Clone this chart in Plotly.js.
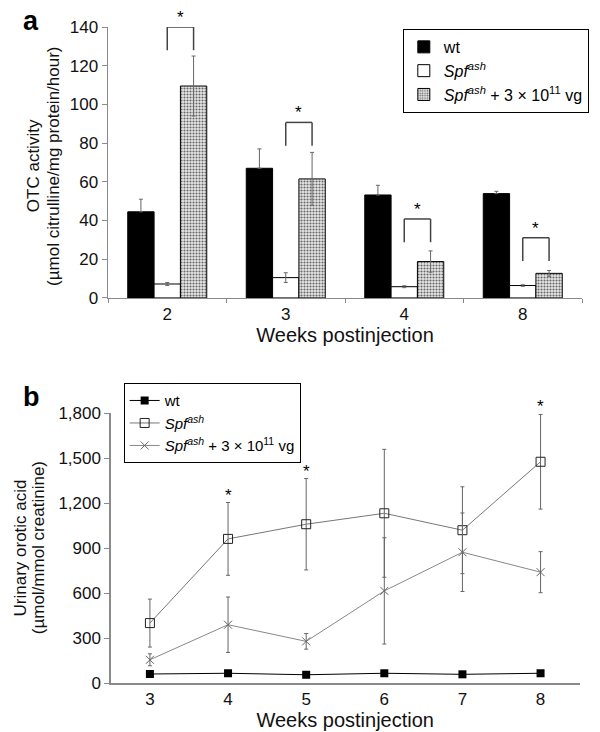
<!DOCTYPE html>
<html>
<head>
<meta charset="utf-8">
<script src="https://cdn.plot.ly/plotly-3.0.1.min.js"></script>
<style>
  body { margin: 0; background: #fff; }
  #chart { width: 600px; height: 732px; }
</style>
</head>
<body>
<div id="chart"></div>
<script>
// panel a: OTC activity (bars)
var weeksA = ['2', '3', '4', '8'];
var wtA = [44.5, 67, 53.2, 53.9];
var wtErrA = [6.5, 10, 5, 1.2];
var spfA = [7.2, 10.5, 5.8, 6.4];
var spfErrA = [0.8, 2.5, 0.5, 0.4];
var trtA = [109.5, 61.5, 18.8, 12.7];
var trtErrA = [15.5, 13.7, 5.5, 1.5];
var bracketTopA = [140, 90.7, 40.8, 31.1];

// panel b: urinary orotic acid (lines)
var weeksB = [3, 4, 5, 6, 7, 8];
var wtB = [60, 65, 55, 65, 58, 65];
var spfB = [400, 962, 1060, 1133, 1020, 1477];
var spfErrB = [160, 243, 305, 427, 290, 316];
var trtB = [155, 389, 278, 615, 873, 740];
var trtErrB = [40, 185, 52, 355, 262, 137];
var starIdxB = [1, 2, 5];   // weeks 4, 5, 8

var font = 'Liberation Sans, Arial, sans-serif';
var axisGrey = '#8a8a8a';
var errStyle = function (arr, minus) {
    return { type: 'data', array: arr, arrayminus: minus || arr, visible: true,
             color: '#666', thickness: 1, width: 2 };
};
var spfName = '<i>Spf<sup>ash</sup></i>';
var trtName = '<i>Spf<sup>ash</sup></i> + 3 \u00d7 10<sup>11</sup> vg';

var data = [
    { x: weeksA, y: wtA, name: 'wt', type: 'bar', xaxis: 'x', yaxis: 'y',
      marker: { color: '#000', line: { color: '#000', width: 1 } },
      error_y: errStyle(wtErrA, wtA.map(function () { return 0; })), legend: 'legend' },
    { x: weeksA, y: spfA, name: spfName, type: 'bar', xaxis: 'x', yaxis: 'y',
      marker: { color: '#fff', line: { color: '#000', width: 1 } },
      error_y: errStyle(spfErrA), legend: 'legend' },
    { x: weeksA, y: trtA, name: trtName, type: 'bar', xaxis: 'x', yaxis: 'y',
      marker: { color: '#c8c8c8', line: { color: '#000', width: 1 },
                pattern: { shape: '.', fgcolor: '#666', bgcolor: '#e8e8e8', size: 3, solidity: 0.4 } },
      error_y: errStyle(trtErrA), legend: 'legend' },

    { x: weeksB, y: wtB, name: 'wt', type: 'scatter', mode: 'lines+markers', xaxis: 'x2', yaxis: 'y2',
      line: { color: '#000', width: 1 },
      marker: { symbol: 'square', size: 8, color: '#000' }, legend: 'legend2' },
    { x: weeksB, y: spfB, name: spfName, type: 'scatter', mode: 'lines+markers',
      xaxis: 'x2', yaxis: 'y2',
      line: { color: '#777', width: 1 },
      marker: { symbol: 'square-open', size: 9, color: '#222', line: { width: 1 } },
      error_y: errStyle(spfErrB), legend: 'legend2' },
    { x: weeksB, y: trtB, name: trtName, type: 'scatter', mode: 'lines+markers',
      xaxis: 'x2', yaxis: 'y2',
      line: { color: '#888', width: 1 },
      marker: { symbol: 'x-thin-open', size: 8, color: '#666', line: { width: 1, color: '#666' } },
      error_y: errStyle(trtErrB), legend: 'legend2' }
];

// significance brackets between Spf and treated bars (group offset of one bar width)
var barW = (1 - 1 / 3) / 3;
var shapes = [];
var annotations = [];
bracketTopA.forEach(function (top, i) {
    var x0 = i, x1 = i + barW, leg = top - 12;
    var ln = { color: '#444', width: 1.5 };
    shapes.push({ type: 'line', xref: 'x', yref: 'y', x0: x0, x1: x1, y0: top, y1: top, line: ln });
    shapes.push({ type: 'line', xref: 'x', yref: 'y', x0: x0, x1: x0, y0: top, y1: leg, line: ln });
    shapes.push({ type: 'line', xref: 'x', yref: 'y', x0: x1, x1: x1, y0: top, y1: leg, line: ln });
    annotations.push({ x: (x0 + x1) / 2, y: top, xref: 'x', yref: 'y', text: '*', showarrow: false,
                       yanchor: 'bottom', yshift: -2, font: { size: 17, color: '#000' } });
});
starIdxB.forEach(function (i) {
    annotations.push({ x: weeksB[i], y: spfB[i] + spfErrB[i], xref: 'x2', yref: 'y2', text: '*',
                       showarrow: false, yanchor: 'bottom', yshift: -4,
                       font: { size: 17, color: '#000' } });
});

// panel letters
annotations.push({ text: '<b>a</b>', x: -0.183, y: 1.035, xref: 'paper', yref: 'paper', showarrow: false,
                   xanchor: 'left', yanchor: 'top', font: { size: 27, color: '#000' } });
annotations.push({ text: '<b>b</b>', x: -0.183, y: 0.462, xref: 'paper', yref: 'paper', showarrow: false,
                   xanchor: 'left', yanchor: 'top', font: { size: 27, color: '#000' } });

// y-axis titles, two rotated lines each
function ytitle(text, px, yMid) {
    return { text: text, textangle: -90, x: (px - 108) / 481, y: yMid, xref: 'paper', yref: 'paper',
             showarrow: false, xanchor: 'center', yanchor: 'middle', font: { size: 17, color: '#111' } };
}
annotations.push(ytitle('OTC activity', 32, 0.788));
annotations.push(ytitle('(\u00b5mol citrulline/mg protein/hour)', 52, 0.788));
annotations.push(ytitle('Urinary orotic acid', 19, 0.2055));
annotations.push(ytitle('(\u00b5mol/mmol creatinine)', 37, 0.2055));

var legendBase = {
    bgcolor: '#fff', bordercolor: '#000', borderwidth: 1,
    font: { family: font, size: 16, color: '#000' },
    xanchor: 'left', yanchor: 'top', tracegroupgap: 0, itemwidth: 30
};

var layout = {
    width: 600, height: 732,
    margin: { l: 108, r: 11, t: 27, b: 49 },
    paper_bgcolor: '#fff', plot_bgcolor: '#fff',
    font: { family: font, size: 17, color: '#111' },
    barmode: 'group', bargap: 1 / 3, bargroupgap: 0,
    showlegend: true,
    legend: Object.assign({}, legendBase, { x: 0.622, y: 0.997 }),
    legend2: Object.assign({}, legendBase, { x: 0.033, y: 0.457,
                                             font: { family: font, size: 15, color: '#000' } }),
    xaxis: {
        domain: [0, 1], anchor: 'y', type: 'category', range: [-0.5, 3.5],
        showline: true, linecolor: axisGrey, linewidth: 1.5,
        ticks: 'outside', tickson: 'boundaries', ticklen: 4, tickcolor: axisGrey,
        showgrid: false, zeroline: false,
        title: { text: 'Weeks postinjection', standoff: 0 }
    },
    yaxis: {
        domain: [0.587, 1], anchor: 'x', range: [0, 140], dtick: 20,
        showline: true, linecolor: axisGrey, linewidth: 1.5,
        ticks: 'outside', ticklen: 5, tickcolor: axisGrey,
        showgrid: false, zeroline: false
    },
    xaxis2: {
        domain: [0.006, 0.995], anchor: 'y2', range: [2.5, 8.5], dtick: 1,
        showline: true, linecolor: axisGrey, linewidth: 1.5,
        ticks: '', showgrid: false, zeroline: false,
        title: { text: 'Weeks postinjection', standoff: 4 }
    },
    yaxis2: {
        domain: [0, 0.411], anchor: 'x2', range: [0, 1800], dtick: 300, tickformat: ',',
        showline: true, linecolor: axisGrey, linewidth: 1.5,
        ticks: 'outside', ticklen: 5, tickcolor: axisGrey,
        showgrid: false, zeroline: false
    },
    shapes: shapes,
    annotations: annotations
};

Plotly.newPlot('chart', data, layout, { displayModeBar: false, staticPlot: true });
</script>
</body>
</html>
